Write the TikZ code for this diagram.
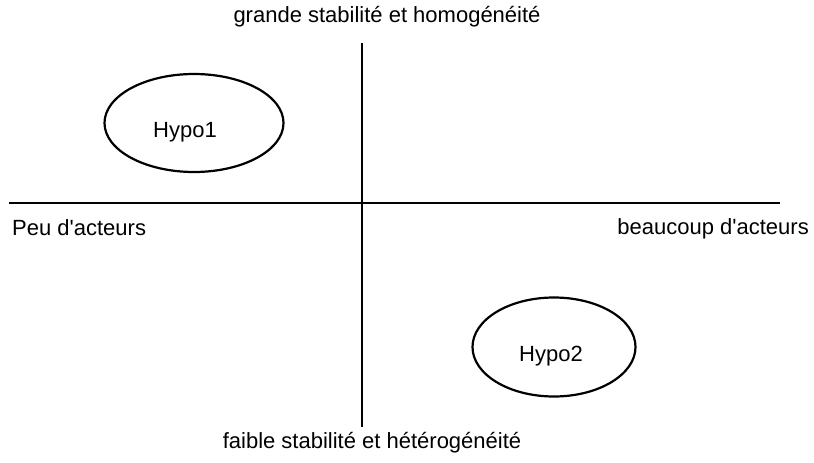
\documentclass[tikz,border=0pt]{standalone}
\usepackage{fontspec}
\setmainfont{Liberation Sans}
\usepackage{tikz}
\usetikzlibrary{positioning,shapes.geometric}

\begin{document}
\begin{tikzpicture}[
  x=1pt, y=-1pt,
  every node/.style={font=\fontsize{22}{26}\selectfont, inner sep=0pt},
  axis/.style={line width=2.2pt},
  hypo/.style={draw, ellipse, line width=2.2pt}
]
\useasboundingbox (0,0) rectangle (814,463);
\coordinate (west) at (9,203);
\coordinate (east) at (780,203);
\coordinate (north) at (362,43);
\coordinate (south) at (362,427);
\draw[axis] (west) -- (east);
\draw[axis] (north) -- (south);

\node[anchor=base] (haut) at (387,22) {grande stabilité et homogénéité};
\node[anchor=base] (bas) at (372,448) {faible stabilité et hétérogénéité};
\node[anchor=base west] (peu) at (12,235) {Peu d\textquotesingle acteurs};
\node[anchor=base east] (beaucoup) at (809,234) {beaucoup d\textquotesingle acteurs};

\node[hypo, minimum width=179pt, minimum height=98pt] (hypoA) at (194,123) {};
\node[hypo, minimum width=163pt, minimum height=99pt] (hypoB) at (554,347) {};
\node (txtA) at ([xshift=-9pt, yshift=-9pt]hypoA.center) {Hypo1};
\node (txtB) at ([xshift=-3pt, yshift=-9pt]hypoB.center) {Hypo2};
\end{tikzpicture}
\end{document}
